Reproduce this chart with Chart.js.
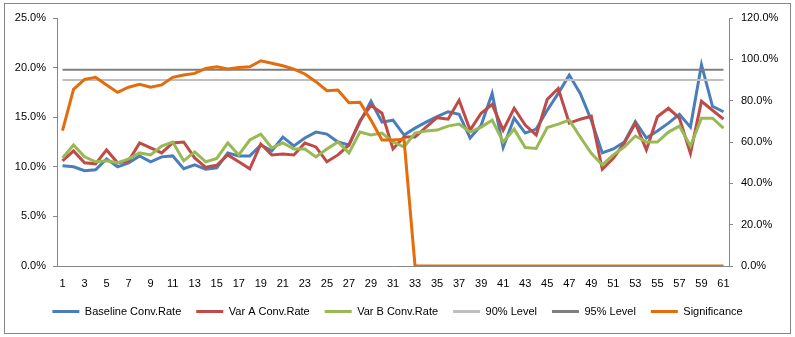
<!DOCTYPE html>
<html>
<head>
<meta charset="utf-8">
<title>Conversion rate and significance</title>
<script src="https://cdn.jsdelivr.net/npm/chart.js@4.4.1/dist/chart.umd.min.js"></script>
<style>
  html, body { margin: 0; padding: 0; background: #fff; }
</style>
</head>
<body>
<canvas id="convChart" width="795" height="337"></canvas>
<script>
const days = [1, 2, 3, 4, 5, 6, 7, 8, 9, 10, 11, 12, 13, 14, 15, 16, 17, 18, 19, 20,
    21, 22, 23, 24, 25, 26, 27, 28, 29, 30, 31, 32, 33, 34, 35, 36, 37, 38, 39, 40,
    41, 42, 43, 44, 45, 46, 47, 48, 49, 50, 51, 52, 53, 54, 55, 56, 57, 58, 59, 60, 61];

// conversion rates in percent (left axis)
const baselineRate = [10.1, 10.0, 9.6, 9.7, 10.8, 10.0, 10.4, 11.1, 10.5, 11.0,
    11.1, 9.8, 10.2, 9.75, 9.9, 11.4, 11.1, 11.1, 12.2, 11.6,
    13.0, 12.1, 12.9, 13.5, 13.3, 12.5, 12.2, 14.5, 16.6, 14.5,
    14.7, 13.2, 13.9, 14.5, 15.05, 15.55, 15.3, 12.9, 14.2, 17.4,
    11.95, 14.9, 13.4, 13.8, 15.7, 17.4, 19.25, 17.4, 14.7, 11.4,
    11.8, 12.5, 14.55, 12.9, 13.6, 14.4, 15.3, 14.0, 20.3, 16.1, 15.55];

const varARate = [10.6, 11.6, 10.4, 10.3, 11.7, 10.4, 10.6, 12.4, 11.9, 11.4,
    12.4, 12.5, 10.9, 9.95, 10.15, 11.2, 10.5, 9.8, 12.3, 11.2,
    11.3, 11.2, 12.4, 12.0, 10.5, 11.2, 12.2, 14.65, 16.2, 15.4,
    11.8, 13.0, 13.0, 14.0, 14.95, 14.8, 16.7, 13.7, 15.4, 16.3,
    13.7, 15.9, 14.2, 13.2, 16.8, 17.9, 14.4, 14.8, 15.1, 9.75,
    10.85, 12.4, 14.4, 11.7, 15.05, 15.9, 14.9, 11.35, 16.6, 15.7, 14.8];

const varBRate = [10.9, 12.2, 11.0, 10.5, 10.6, 10.4, 10.8, 11.4, 11.2, 12.1,
    12.5, 10.6, 11.5, 10.5, 10.85, 12.4, 11.2, 12.7, 13.3, 11.9,
    12.4, 11.8, 11.8, 11.0, 11.8, 12.5, 11.4, 13.5, 13.2, 13.4,
    12.5, 12.0, 13.4, 13.6, 13.7, 14.1, 14.3, 13.5, 14.0, 14.7,
    12.5, 13.8, 11.95, 11.85, 13.95, 14.3, 14.7, 13.0, 11.35, 10.2,
    11.2, 12.0, 13.1, 12.5, 12.5, 13.5, 14.1, 12.1, 14.9, 14.9, 13.9];

// significance and thresholds in percent (right axis)
const significance = [65.5, 85.5, 90.3, 91.3, 87.6, 84.0, 86.5, 87.9, 86.5, 87.6,
    91.3, 92.4, 93.2, 95.6, 96.4, 95.3, 96.0, 96.4, 99.3, 98.1,
    96.9, 95.3, 92.9, 89.2, 84.8, 85.1, 79.0, 79.2, 70.6, 61.0,
    61.0, 61.3, 0, 0, 0, 0, 0, 0, 0, 0,
    0, 0, 0, 0, 0, 0, 0, 0, 0, 0,
    0, 0, 0, 0, 0, 0, 0, 0, 0, 0, 0];

const level90 = [90, 90, 90, 90, 90, 90, 90, 90, 90, 90, 90, 90, 90, 90, 90, 90, 90, 90, 90, 90,
    90, 90, 90, 90, 90, 90, 90, 90, 90, 90, 90, 90, 90, 90, 90, 90, 90, 90, 90, 90,
    90, 90, 90, 90, 90, 90, 90, 90, 90, 90, 90, 90, 90, 90, 90, 90, 90, 90, 90, 90, 90];

const level95 = [95, 95, 95, 95, 95, 95, 95, 95, 95, 95, 95, 95, 95, 95, 95, 95, 95, 95, 95, 95,
    95, 95, 95, 95, 95, 95, 95, 95, 95, 95, 95, 95, 95, 95, 95, 95, 95, 95, 95, 95,
    95, 95, 95, 95, 95, 95, 95, 95, 95, 95, 95, 95, 95, 95, 95, 95, 95, 95, 95, 95, 95];

const rateTicks = { min: 0, max: 25, step: 5 };
const sigTicks = { min: 0, max: 120, step: 20 };

const axisGray = '#868686';
const labelFont = { family: "'Liberation Sans', Arial, sans-serif", size: 11 };

Chart.defaults.font = labelFont;
Chart.defaults.color = '#000';

function lineSeries(label, data, color, width, axis, order) {
    return {
        label: label,
        data: data,
        yAxisID: axis,
        borderColor: color,
        backgroundColor: color,
        borderWidth: width,
        pointRadius: 0,
        pointHoverRadius: 0,
        tension: 0,
        fill: false,
        order: order
    };
}

// white background and the thin frame round the chart
const chartFrame = {
    id: 'chartFrame',
    beforeDraw(chart) {
        const { ctx, width, height } = chart;
        ctx.save();
        ctx.fillStyle = '#fff';
        ctx.fillRect(0, 0, width, height);
        ctx.strokeStyle = axisGray;
        ctx.lineWidth = 1;
        ctx.strokeRect(4.5, 3.5, width - 9, height - 7);
        ctx.restore();
    }
};

const ctx = document.getElementById('convChart').getContext('2d');

const convChart = new Chart(ctx, {
    type: 'line',
    data: {
        labels: days,
        datasets: [
            lineSeries('Baseline Conv.Rate', baselineRate, '#4A7EBB', 3, 'y', 6),
            lineSeries('Var A Conv.Rate', varARate, '#BE4B48', 3, 'y', 5),
            lineSeries('Var B Conv.Rate', varBRate, '#98B954', 3, 'y', 4),
            lineSeries('90% Level', level90, '#BFBFBF', 2, 'y1', 3),
            lineSeries('95% Level', level95, '#7F7F7F', 2, 'y1', 2),
            lineSeries('Significance', significance, '#E46C0A', 3, 'y1', 1)
        ]
    },
    options: {
        responsive: false,
        animation: false,
        layout: { padding: { top: 18, left: 0, right: 0, bottom: 10 } },
        plugins: {
            tooltip: { enabled: false },
            legend: {
                position: 'bottom',
                labels: {
                    boxWidth: 27,
                    boxHeight: 3,
                    padding: 15,
                    font: labelFont,
                    sort: (a, b) => a.datasetIndex - b.datasetIndex,
                    generateLabels(chart) {
                        const items = Chart.defaults.plugins.legend.labels.generateLabels(chart);
                        items.forEach(item => {
                            item.fillStyle = item.strokeStyle;
                            item.lineWidth = 0;
                        });
                        return items;
                    }
                }
            }
        },
        scales: {
            x: {
                offset: true,
                grid: { display: false, drawTicks: false },
                border: { display: true, color: axisGray },
                ticks: {
                    autoSkip: false,
                    maxRotation: 0,
                    padding: 11,
                    callback(value, index) {
                        return index % 2 === 0 ? this.getLabelForValue(value) : '';
                    }
                },
                afterFit(scale) { scale.height = 25; }
            },
            y: {
                position: 'left',
                min: rateTicks.min,
                max: rateTicks.max,
                grid: { drawOnChartArea: false, tickLength: 4, color: axisGray },
                border: { color: axisGray },
                ticks: {
                    stepSize: rateTicks.step,
                    padding: 7,
                    callback: v => v.toFixed(1) + '%'
                },
                afterFit(scale) { scale.width = 57; }
            },
            y1: {
                position: 'right',
                min: sigTicks.min,
                max: sigTicks.max,
                grid: { drawOnChartArea: false, tickLength: 4, color: axisGray },
                border: { color: axisGray },
                ticks: {
                    stepSize: sigTicks.step,
                    padding: 8,
                    callback: v => v.toFixed(1) + '%'
                },
                afterFit(scale) { scale.width = 66; }
            }
        }
    },
    plugins: [chartFrame]
});
</script>
</body>
</html>
